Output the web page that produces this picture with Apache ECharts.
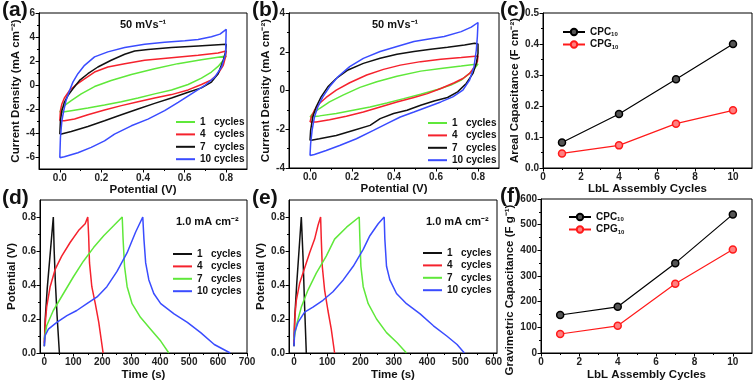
<!DOCTYPE html>
<html>
<head>
<meta charset="utf-8">
<script src="https://cdn.jsdelivr.net/npm/echarts@6/dist/echarts.min.js"></script>
<style>
html, body { margin: 0; padding: 0; background: #fff; }
#main { width: 756px; height: 386px; }
</style>
</head>
<body>
<div id="main"></div>
<script>
// CV curves (a): [potential V, current density mA cm-2], loop order
var cvA1 = [[0,-2.28],[0.006,-2.09],[0.022,-1.72],[0.055,-1.3],[0.103,-0.74],[0.167,-0.13],[0.247,0.38],[0.344,0.88],[0.456,1.36],[0.568,1.78],[0.681,2.11],[0.8,2.42],[0.786,2.06],[0.761,1.55],[0.729,1.08],[0.681,0.57],[0.617,0.04],[0.537,-0.41],[0.456,-0.74],[0.376,-1.08],[0.296,-1.39],[0.215,-1.67],[0.135,-1.92],[0.055,-2.14],[0.006,-2.28]];
var cvA4 = [[0,-2.98],[0.003,-2.14],[0.01,-1.58],[0.022,-1.08],[0.047,-0.46],[0.079,0.04],[0.119,0.52],[0.167,1.08],[0.231,1.5],[0.312,1.78],[0.408,2.06],[0.537,2.28],[0.665,2.48],[0.761,2.67],[0.8,2.84],[0.797,2.34],[0.786,1.64],[0.761,0.94],[0.729,0.43],[0.681,0.04],[0.617,-0.41],[0.537,-0.8],[0.456,-1.08],[0.376,-1.39],[0.296,-1.72],[0.215,-2.09],[0.135,-2.48],[0.071,-2.84],[0.022,-2.98],[0,-2.98]];
var cvA7 = [[0,-4.1],[0.003,-2.98],[0.01,-2.14],[0.022,-1.44],[0.039,-0.88],[0.063,-0.32],[0.095,0.38],[0.135,0.94],[0.183,1.5],[0.247,2.06],[0.312,2.56],[0.36,2.84],[0.424,2.96],[0.537,3.12],[0.665,3.26],[0.8,3.4],[0.797,2.76],[0.786,2.06],[0.761,0.94],[0.729,0.24],[0.681,-0.24],[0.617,-0.6],[0.537,-1.08],[0.456,-1.53],[0.376,-2.0],[0.296,-2.48],[0.215,-2.98],[0.135,-3.46],[0.055,-3.88],[0.003,-4.1],[0,-4.1]];
var cvA10 = [[0,-6.07],[0.003,-4.39],[0.01,-2.98],[0.019,-2.14],[0.03,-1.3],[0.047,-0.46],[0.063,0.24],[0.087,0.94],[0.119,1.64],[0.167,2.34],[0.231,2.76],[0.312,3.12],[0.408,3.4],[0.504,3.57],[0.601,3.68],[0.665,3.8],[0.729,4.02],[0.77,4.24],[0.8,4.64],[0.797,2.6],[0.778,1.5],[0.745,0.66],[0.697,-0.04],[0.633,-0.74],[0.569,-1.44],[0.504,-2.14],[0.424,-2.84],[0.344,-3.4],[0.263,-4.1],[0.215,-4.66],[0.151,-5.2],[0.087,-5.64],[0.022,-5.98],[0,-6.07]];

// CV curves (b)
var cvB1 = [[0,-1.37],[0.013,-1.19],[0.045,-0.93],[0.093,-0.59],[0.157,-0.24],[0.238,0.16],[0.318,0.45],[0.414,0.74],[0.527,1.0],[0.623,1.14],[0.72,1.26],[0.8,1.37],[0.784,1.14],[0.76,0.88],[0.72,0.54],[0.671,0.28],[0.607,0.05],[0.527,-0.19],[0.446,-0.42],[0.366,-0.64],[0.286,-0.85],[0.205,-1.02],[0.125,-1.19],[0.045,-1.31],[0,-1.37]];
var cvB4 = [[0,-1.63],[0.006,-1.37],[0.021,-1.02],[0.045,-0.67],[0.077,-0.36],[0.125,0.02],[0.189,0.4],[0.27,0.8],[0.35,1.09],[0.43,1.31],[0.527,1.49],[0.623,1.61],[0.72,1.7],[0.8,1.78],[0.797,1.49],[0.784,1.23],[0.76,0.88],[0.728,0.62],[0.687,0.4],[0.623,0.1],[0.559,-0.16],[0.495,-0.36],[0.414,-0.59],[0.334,-0.85],[0.254,-1.11],[0.173,-1.33],[0.093,-1.51],[0.029,-1.63],[0,-1.63]];
var cvB7 = [[0,-2.58],[0.003,-2.06],[0.013,-1.37],[0.029,-0.85],[0.053,-0.33],[0.085,0.19],[0.125,0.62],[0.181,1.06],[0.254,1.4],[0.334,1.66],[0.414,1.87],[0.495,2.01],[0.575,2.13],[0.655,2.23],[0.736,2.35],[0.784,2.44],[0.8,2.4],[0.8,1.92],[0.792,1.4],[0.776,0.88],[0.744,0.36],[0.703,-0.07],[0.655,-0.36],[0.591,-0.54],[0.527,-0.76],[0.462,-1.02],[0.398,-1.19],[0.334,-1.45],[0.286,-1.8],[0.205,-2.06],[0.125,-2.32],[0.045,-2.49],[0,-2.58]];
var cvB10 = [[0,-3.36],[0.003,-2.75],[0.01,-2.06],[0.021,-1.37],[0.037,-0.85],[0.061,-0.33],[0.093,0.19],[0.133,0.71],[0.189,1.23],[0.254,1.66],[0.334,2.01],[0.414,2.27],[0.495,2.53],[0.559,2.65],[0.639,2.79],[0.72,3.04],[0.768,3.27],[0.8,3.51],[0.797,2.79],[0.792,2.09],[0.781,1.23],[0.76,0.54],[0.728,0.02],[0.68,-0.33],[0.623,-0.59],[0.559,-0.85],[0.495,-1.11],[0.43,-1.37],[0.366,-1.71],[0.302,-2.06],[0.221,-2.49],[0.141,-2.84],[0.077,-3.1],[0.021,-3.3],[0,-3.36]];

// GCD curves (d): [time s, potential V]
var gcdD1 = [[0,0.04],[3,0.2],[10,0.38],[20,0.58],[31,0.8],[34,0.6],[38,0.42],[44,0.22],[52,0]];
var gcdD4 = [[0,0.06],[3.5,0.18],[8,0.27],[20,0.39],[37,0.49],[60,0.57],[89,0.65],[118,0.72],[141,0.76],[150,0.8],[153,0.69],[156,0.53],[164,0.39],[176,0.29],[188,0.18],[203,0]];
var gcdD7 = [[0,0.08],[8,0.16],[31,0.25],[66,0.35],[101,0.45],[135,0.54],[170,0.62],[205,0.69],[240,0.75],[269,0.8],[272,0.67],[277,0.51],[286,0.39],[303,0.29],[332,0.21],[367,0.14],[402,0.07],[430,0]];
var gcdD10 = [[0,0.04],[2,0.1],[14,0.14],[43,0.18],[78,0.22],[112,0.25],[147,0.29],[182,0.33],[216,0.39],[251,0.48],[286,0.59],[315,0.71],[340,0.8],[344,0.67],[350,0.53],[361,0.43],[378,0.35],[402,0.29],[448,0.23],[494,0.18],[540,0.12],[587,0.05],[642,0]];

// GCD curves (e)
var gcdE1 = [[0,0.04],[2,0.2],[8,0.4],[15,0.6],[22,0.8],[27,0.57],[32,0.27],[37,0]];
var gcdE4 = [[0,0.06],[3,0.22],[7,0.31],[17,0.41],[32,0.5],[47,0.59],[62,0.67],[72,0.75],[80,0.8],[82,0.67],[85,0.51],[92,0.37],[102,0.25],[112,0.14],[122,0]];
var gcdE7 = [[0,0.08],[7,0.16],[22,0.27],[42,0.37],[67,0.47],[97,0.57],[122,0.67],[158,0.74],[196,0.8],[198,0.67],[201,0.51],[208,0.39],[223,0.29],[248,0.2],[278,0.12],[310,0.06],[338,0]];
var gcdE10 = [[0,0.04],[2,0.12],[12,0.18],[32,0.24],[57,0.27],[87,0.31],[117,0.36],[148,0.43],[178,0.51],[208,0.61],[228,0.69],[253,0.76],[271,0.8],[273,0.67],[278,0.51],[288,0.43],[308,0.35],[338,0.29],[379,0.23],[419,0.16],[459,0.1],[490,0.05],[512,0]];

// capacitance vs LbL cycles (c), (f)
var lblCycles = [1, 4, 7, 10];
var arealCPC = [0.082, 0.174, 0.286, 0.4];
var arealCPG = [0.047, 0.073, 0.143, 0.186];
var gravCPC = [148, 180, 350, 540];
var gravCPG = [74, 106, 270, 403];

// tick labels
var cvXTicks = [0, 0.2, 0.4, 0.6, 0.8];
var cvAYTicks = [-6, -4, -2, 0, 2, 4, 6];
var cvBYTicks = [-4, -2, 0, 2, 4];
var lblXTicks = [0, 2, 4, 6, 8, 10];
var arealYTicks = [0, 0.1, 0.2, 0.3, 0.4, 0.5];
var gcdDXTicks = [0, 100, 200, 300, 400, 500, 600, 700];
var gcdEXTicks = [0, 100, 200, 300, 400, 500, 600];
var gcdYTicks = [0, 0.2, 0.4, 0.6, 0.8];
var gravYTicks = [0, 100, 200, 300, 400, 500, 600];

var cycleNames = { c1: '1   cycles', c4: '4   cycles', c7: '7   cycles', c10: '10 cycles' };

var FONT = 'Liberation Sans, Arial, sans-serif';
var GREEN = '#5fe83a', RED = '#f5222d', BLACK = '#111111', BLUE = '#3a4cff';

var chart = echarts.init(document.getElementById('main'));

var grids = [
    { left: 39, top: 13, width: 208, height: 156 },  // a
    { left: 289, top: 13, width: 210, height: 155 }, // b
    { left: 543, top: 13, width: 209, height: 155 }, // c
    { left: 40, top: 200, width: 207, height: 153 }, // d
    { left: 289, top: 200, width: 208, height: 153 },// e
    { left: 541, top: 199, width: 211, height: 154 } // f
];
grids.forEach(function (g) {
    g.show = true;
    g.borderColor = '#000';
    g.borderWidth = 1;
    g.outerBoundsMode = 'none';
});

// minor ticks halfway between majors
function halves(ticks) {
    var out = [];
    var step = ticks[1] - ticks[0];
    for (var i = 0; i < ticks.length; i++) {
        out.push(+(ticks[i] - step / 2).toFixed(4));
    }
    out.push(+(ticks[ticks.length - 1] + step / 2).toFixed(4));
    return out;
}

// main axis + a hidden axis that only draws minor ticks
function makeAxes(isX, gi, min, max, ticks, fmt, name, gap, namePad) {
    var minors = halves(ticks).filter(function (v) { return v > min && v < max; });
    var main = {
        type: 'value', gridIndex: gi, min: min, max: max,
        position: isX ? 'bottom' : 'left',
        splitLine: { show: false },
        axisLine: { show: true, onZero: false, lineStyle: { color: '#000', width: 1 } },
        axisTick: { show: true, length: 3.5, customValues: ticks, lineStyle: { color: '#000' } },
        axisLabel: { customValues: ticks, formatter: fmt, fontSize: 10, fontWeight: 'bold', color: '#222', fontFamily: FONT, margin: 4 },
        name: name, nameLocation: 'middle', nameGap: gap,
        nameTextStyle: { fontSize: 11.5, fontWeight: 'bold', color: '#111', fontFamily: FONT, padding: namePad || 0 }
    };
    var minor = {
        type: 'value', gridIndex: gi, min: min, max: max,
        position: isX ? 'bottom' : 'left',
        splitLine: { show: false },
        axisLine: { show: false, onZero: false },
        axisTick: { show: true, length: 2, customValues: minors, lineStyle: { color: '#000' } },
        axisLabel: { show: false }
    };
    return [main, minor];
}

function f1(v) { return v.toFixed(1); }
function f0(v) { return String(v); }

var xAxes = [], yAxes = [];
function addPanel(gi, x, y) {
    xAxes.push.apply(xAxes, makeAxes(true, gi, x[0], x[1], x[2], x[3], x[4], x[5]));
    yAxes.push.apply(yAxes, makeAxes(false, gi, y[0], y[1], y[2], y[3], y[4], y[5], y[6]));
}
addPanel(0, [-0.1, 0.9, cvXTicks, f1, 'Potential (V)', 12], [-7, 6, cvAYTicks, f0, 'Current Density (mA cm\u207B\u00B2)', 17]);
addPanel(1, [-0.1, 0.9, cvXTicks, f1, 'Potential (V)', 12], [-4, 4, cvBYTicks, f0, 'Current Density (mA cm\u207B\u00B2)', 17]);
addPanel(2, [0, 11, lblXTicks, f0, 'LbL Assembly Cycles', 14], [0, 0.5, arealYTicks, f1, 'Areal Capacitance (F cm\u207B\u00B2)', 22]);
addPanel(3, [-15, 700, gcdDXTicks, f0, 'Time (s)', 16], [0, 0.9, gcdYTicks, f1, 'Potential (V)', 22]);
addPanel(4, [-15, 610, gcdEXTicks, f0, 'Time (s)', 16], [0, 0.9, gcdYTicks, f1, 'Potential (V)', 21]);
addPanel(5, [0, 11, lblXTicks, f0, 'LbL Assembly Cycles', 16], [0, 600, gravYTicks, f0, 'Gravimetric Capacitance (F g\u207B\u00B9)', 25, [0, 28, 0, 0]]);

var series = [];
function curve(name, gi, data, color) {
    series.push({
        name: name, type: 'line', xAxisIndex: gi * 2, yAxisIndex: gi * 2,
        data: data, symbol: 'none', showSymbol: false,
        lineStyle: { color: color, width: 1.5 }, itemStyle: { color: color },
        z: 3
    });
}
curve('c1', 0, cvA1, GREEN); curve('c4', 0, cvA4, RED); curve('c7', 0, cvA7, BLACK); curve('c10', 0, cvA10, BLUE);
curve('c1', 1, cvB1, GREEN); curve('c4', 1, cvB4, RED); curve('c7', 1, cvB7, BLACK); curve('c10', 1, cvB10, BLUE);
curve('g1', 3, gcdD1, BLACK); curve('g4', 3, gcdD4, RED); curve('g7', 3, gcdD7, GREEN); curve('g10', 3, gcdD10, BLUE);
curve('g1', 4, gcdE1, BLACK); curve('g4', 4, gcdE4, RED); curve('g7', 4, gcdE7, GREEN); curve('g10', 4, gcdE10, BLUE);

function pts(xs, ys) { return xs.map(function (x, i) { return [x, ys[i]]; }); }
function capLine(name, gi, ys, color, fill) {
    series.push({
        name: name, type: 'line', xAxisIndex: gi * 2, yAxisIndex: gi * 2,
        data: pts(lblCycles, ys), symbol: 'circle', symbolSize: 7,
        lineStyle: { color: color, width: 1.2 },
        itemStyle: { color: fill, borderColor: color, borderWidth: 1.5 }
    });
}
capLine('CPC', 2, arealCPC, '#000', '#555');
capLine('CPG', 2, arealCPG, '#ff1a1a', '#ff8080');
capLine('CPC', 5, gravCPC, '#000', '#555');
capLine('CPG', 5, gravCPG, '#ff1a1a', '#ff8080');

function cycLegend(left, top, names) {
    return {
        orient: 'vertical', left: left, top: top, data: names, padding: 0,
        icon: 'rect', itemWidth: 19, itemHeight: 2, itemGap: 2.4,
        formatter: function (n) { return cycleNames['c' + n.slice(1)]; },
        textStyle: { fontSize: 10, fontWeight: 'bold', color: '#111', fontFamily: FONT, lineHeight: 10 },
        selectedMode: false
    };
}
function capLegend(left, top) {
    return {
        orient: 'vertical', left: left, top: top, data: ['CPC', 'CPG'], padding: 0,
        itemWidth: 22, itemHeight: 8, itemGap: 2,
        formatter: function (n) { return '{m|' + n + '}{s|10}'; },
        textStyle: {
            color: '#111', fontFamily: FONT,
            rich: {
                m: { fontSize: 10, fontWeight: 'bold', fontFamily: FONT, color: '#111' },
                s: { fontSize: 6, fontWeight: 'bold', fontFamily: FONT, color: '#111', padding: [5, 0, 0, 0] }
            }
        },
        selectedMode: false
    };
}

function label(text, left, top, size) {
    return { text: text, left: left, top: top, padding: 0,
        textStyle: { fontSize: size, fontWeight: 'bold', color: '#111', fontFamily: FONT } };
}

var option = {
    animation: false,
    backgroundColor: '#fff',
    grid: grids,
    xAxis: xAxes,
    yAxis: yAxes,
    series: series,
    legend: [
        cycLegend(176, 117, ['c1', 'c4', 'c7', 'c10']),
        cycLegend(428, 118, ['c1', 'c4', 'c7', 'c10']),
        cycLegend(173, 249, ['g1', 'g4', 'g7', 'g10']),
        cycLegend(423, 248, ['g1', 'g4', 'g7', 'g10']),
        capLegend(562, 27),
        capLegend(568, 212)
    ],
    title: [
        label('(a)', 2, 0, 21), label('(b)', 252, 0, 21), label('(c)', 500, 0, 21),
        label('(d)', 2, 188, 21), label('(e)', 252, 188, 21), label('(f)', 500, 186, 21),
        label('50 mVs\u207B\u00B9', 120, 19, 11), label('50 mVs\u207B\u00B9', 372, 19, 11),
        label('1.0 mA cm\u207B\u00B2', 176, 216, 11), label('1.0 mA cm\u207B\u00B2', 426, 216, 11)
    ]
};

chart.setOption(option);
</script>
</body>
</html>
